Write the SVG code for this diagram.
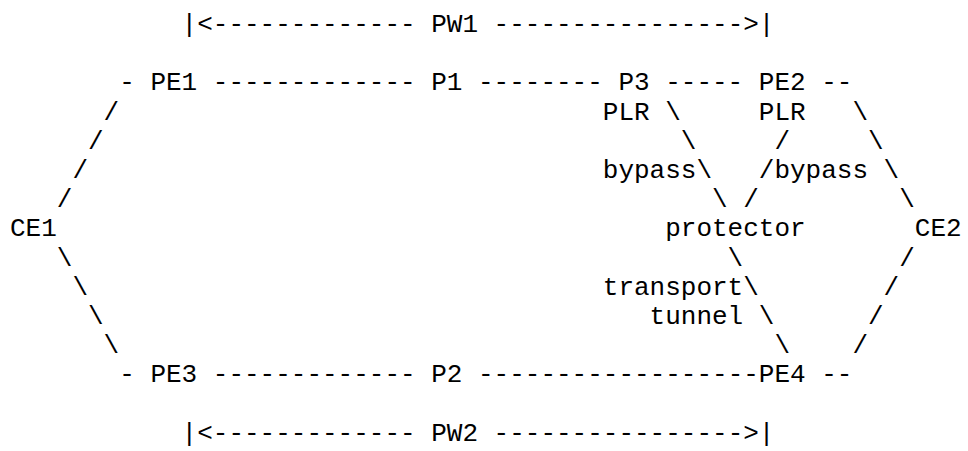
<svg xmlns="http://www.w3.org/2000/svg" width="968" height="451" viewBox="0 0 968 451">
<style>
text{font-family:"Liberation Mono","Courier New",monospace;font-size:26px;fill:#000;}
</style>
<rect x="0" y="0" width="968" height="451" fill="#fff"/>
<g id="connectors">
<text x="181.6" y="32">|&lt;-------------</text>
<text x="493.6" y="32">----------------&gt;|</text>
<text x="119.2" y="90.4">-</text>
<text x="212.8" y="90.4">-------------</text>
<text x="478" y="90.4">--------</text>
<text x="665.2" y="90.4">-----</text>
<text x="821.2" y="90.4">--</text>
<text x="103.6" y="119.6">/</text>
<text x="665.2" y="119.6">\</text>
<text x="852.4" y="119.6">\</text>
<text x="88" y="148.8">/</text>
<text x="680.8" y="148.8">\</text>
<text x="774.4" y="148.8">/</text>
<text x="868" y="148.8">\</text>
<text x="72.4" y="178">/</text>
<text x="696.4" y="178">\</text>
<text x="758.8" y="178">/</text>
<text x="883.6" y="178">\</text>
<text x="56.8" y="207.2">/</text>
<text x="712" y="207.2">\</text>
<text x="743.2" y="207.2">/</text>
<text x="899.2" y="207.2">\</text>
<text x="56.8" y="265.6">\</text>
<text x="727.6" y="265.6">\</text>
<text x="899.2" y="265.6">/</text>
<text x="72.4" y="294.8">\</text>
<text x="743.2" y="294.8">\</text>
<text x="883.6" y="294.8">/</text>
<text x="88" y="324">\</text>
<text x="758.8" y="324">\</text>
<text x="868" y="324">/</text>
<text x="103.6" y="353.2">\</text>
<text x="774.4" y="353.2">\</text>
<text x="852.4" y="353.2">/</text>
<text x="119.2" y="382.4">-</text>
<text x="212.8" y="382.4">-------------</text>
<text x="478" y="382.4">------------------</text>
<text x="821.2" y="382.4">--</text>
<text x="181.6" y="440.8">|&lt;-------------</text>
<text x="493.6" y="440.8">----------------&gt;|</text>
</g>
<g id="pw1"><text x="431.2" y="32">PW1</text></g>
<g id="pe1"><text x="150.4" y="90.4">PE1</text></g>
<g id="p1"><text x="431.2" y="90.4">P1</text></g>
<g id="p3"><text x="618.4" y="90.4">P3</text></g>
<g id="pe2"><text x="758.8" y="90.4">PE2</text></g>
<g id="plr1"><text x="602.8" y="119.6">PLR</text></g>
<g id="plr2"><text x="758.8" y="119.6">PLR</text></g>
<g id="bypass1"><text x="602.8" y="178">bypass</text></g>
<g id="bypass2"><text x="774.4" y="178">bypass</text></g>
<g id="ce1"><text x="10" y="236.4">CE1</text></g>
<g id="protector"><text x="665.2" y="236.4">protector</text></g>
<g id="ce2"><text x="914.8" y="236.4">CE2</text></g>
<g id="transport-tunnel"><text x="602.8" y="294.8">transport</text><text x="649.6" y="324">tunnel</text></g>
<g id="pe3"><text x="150.4" y="382.4">PE3</text></g>
<g id="p2"><text x="431.2" y="382.4">P2</text></g>
<g id="pe4"><text x="758.8" y="382.4">PE4</text></g>
<g id="pw2"><text x="431.2" y="440.8">PW2</text></g>
</svg>
